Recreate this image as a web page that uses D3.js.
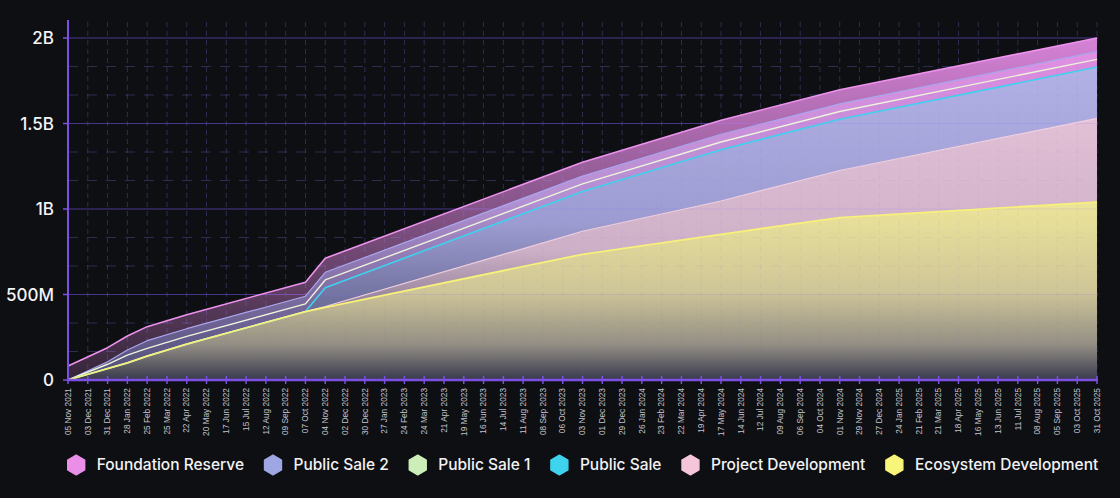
<!DOCTYPE html>
<html><head><meta charset="utf-8">
<script src="https://cdn.jsdelivr.net/npm/d3@7"></script>
<style>
html,body{margin:0;padding:0;background:#0e0f13;}
svg{display:block;}
</style></head><body>
<svg id="chart" width="1120" height="498"></svg>
<script>
// ---------- DATA (values in millions of tokens) ----------
const seriesNames = ["Ecosystem Development","Project Development","Public Sale","Public Sale 1","Public Sale 2","Foundation Reserve"];
const dates = ["2021-11-05","2021-12-31","2022-01-28","2022-02-25","2022-04-22","2022-10-07","2022-11-04","2023-11-03","2024-05-17","2024-11-01","2025-10-31"];
const ecosystemDevelopment = [0, 67, 100, 140, 210, 400, 425, 735, 852, 950, 1040];
const projectDevelopment   = [0, 0, 0, 0, 0, 0, 5, 135, 195, 275, 490];
const publicSale           = [0, 0, 0, 0, 0, 0, 110, 232, 300, 300, 300];
const publicSale1          = [0, 25, 45, 45, 45, 45, 45, 45, 45, 45, 45];
const publicSale2          = [0, 15, 30, 45, 45, 45, 45, 45, 45, 45, 45];
const foundationReserve    = [82, 82, 82, 82, 82, 82, 82, 82, 82, 82, 80];
const xTickLabels = ["05 Nov 2021","03 Dec 2021","31 Dec 2021","28 Jan 2022","25 Feb 2022","25 Mar 2022","22 Apr 2022","20 May 2022","17 Jun 2022","15 Jul 2022","12 Aug 2022","09 Sep 2022","07 Oct 2022","04 Nov 2022","02 Dec 2022","30 Dec 2022","27 Jan 2023","24 Feb 2023","24 Mar 2023","21 Apr 2023","19 May 2023","16 Jun 2023","14 Jul 2023","11 Aug 2023","08 Sep 2023","06 Oct 2023","03 Nov 2023","01 Dec 2023","29 Dec 2023","26 Jan 2024","23 Feb 2024","22 Mar 2024","19 Apr 2024","17 May 2024","14 Jun 2024","12 Jul 2024","09 Aug 2024","06 Sep 2024","04 Oct 2024","01 Nov 2024","29 Nov 2024","27 Dec 2024","24 Jan 2025","21 Feb 2025","21 Mar 2025","18 Apr 2025","16 May 2025","13 Jun 2025","11 Jul 2025","08 Aug 2025","05 Sep 2025","03 Oct 2025","31 Oct 2025"];
const yTickValues = [0, 500, 1000, 1500, 2000];
const yTickLabels = ["0","500M","1B","1.5B","2B"];
const legendOrder = ["Foundation Reserve","Public Sale 2","Public Sale 1","Public Sale","Project Development","Ecosystem Development"];

// ---------- STYLES ----------
const styles = {
  "Ecosystem Development": {legend:"#f7f57a", stroke:"#f7f07a", sw:1.8,
    stops:[[0,"#f3eb9d",0.97],[0.5,"#d9cf9f",0.95],[0.8,"#9a958a",0.95],[1,"#3a3b50",0.95]]},
  "Project Development": {legend:"#f5c6da", stroke:"#f2d2e2", sw:1.2,
    stops:[[0,"#ebc7de",0.96],[0.5,"#dcbdd5",0.93],[1,"#4c4a62",0.9]]},
  "Public Sale": {legend:"#3fd4ee", stroke:"#3ed2ee", sw:1.6,
    stops:[[0,"#b9b8ef",0.96],[0.5,"#a9a8e2",0.92],[1,"#4a4b72",0.9]]},
  "Public Sale 1": {legend:"#cdeeb8", stroke:"#eef4dc", sw:1.4,
    stops:[[0,"#e892ea",0.95],[0.45,"#c39ee6",0.9],[1,"#5a5888",0.85]]},
  "Public Sale 2": {legend:"#9ea6e4", stroke:"#aba7ee", sw:1.2,
    stops:[[0,"#ec96ee",0.95],[0.45,"#c6a0e8",0.9],[1,"#5a5888",0.85]]},
  "Foundation Reserve": {legend:"#ea8ee8", stroke:"#ee92ee", sw:1.6,
    stops:[[0,"#e088e0",0.95],[1,"#e088e0",0.18]]}
};

const W = 1120, H = 498;
const M = {left:68, right:1097, top:38, bottom:380};
const svg = d3.select("#chart");
svg.append("rect").attr("width",W).attr("height",H).attr("fill","#0e0f13");

const parseISO = d3.utcParse("%Y-%m-%d");
const parseTick = d3.utcParse("%d %b %Y");
const valuesBySeries = {
  "Ecosystem Development": ecosystemDevelopment,
  "Project Development": projectDevelopment,
  "Public Sale": publicSale,
  "Public Sale 1": publicSale1,
  "Public Sale 2": publicSale2,
  "Foundation Reserve": foundationReserve
};
const table = dates.map((d,i) => {
  const row = {date: parseISO(d)};
  seriesNames.forEach(s => row[s] = valuesBySeries[s][i]);
  return row;
});
const tickDates = xTickLabels.map(parseTick);

const x = d3.scaleUtc().domain([tickDates[0], tickDates[tickDates.length-1]]).range([M.left, M.right]);
const y = d3.scaleLinear().domain([0, 2000]).range([M.bottom, M.top]);

const layers = d3.stack().keys(seriesNames)(table);

// gradients
const defs = svg.append("defs");
seriesNames.forEach((s,i) => {
  const g = defs.append("linearGradient").attr("id","grad"+i)
    .attr("x1",0).attr("y1",0).attr("x2",0).attr("y2",1);
  styles[s].stops.forEach(st => g.append("stop").attr("offset",st[0]).attr("stop-color",st[1]).attr("stop-opacity",st[2]));
});

// grid (under areas)
const minorVals = d3.range(1, 12).map(i => i * 500/3).filter((v,i) => (i+1) % 3 !== 0);
function drawGrid(op) {
  const grid = svg.append("g");
  grid.selectAll("line.minor").data(minorVals).join("line").attr("class","minor")
    .attr("x1", M.left).attr("x2", M.right+1).attr("y1", d => y(d)).attr("y2", d => y(d))
    .attr("stroke","rgb(110,100,190)").attr("stroke-opacity",0.3*op).attr("stroke-dasharray","10,9");
  grid.selectAll("line.vert").data(tickDates.slice(1)).join("line").attr("class","vert")
    .attr("x1", d => x(d)).attr("x2", d => x(d)).attr("y1", 22).attr("y2", M.bottom)
    .attr("stroke","rgb(110,100,190)").attr("stroke-opacity",0.3*op).attr("stroke-dasharray","5,4");
  grid.selectAll("line.major").data(yTickValues.slice(1)).join("line").attr("class","major")
    .attr("x1", M.left).attr("x2", M.right+1).attr("y1", d => y(d)).attr("y2", d => y(d))
    .attr("stroke","rgb(115,85,225)").attr("stroke-opacity",0.5*op).attr("stroke-width",1);
}
drawGrid(1);

// areas
const area = d3.area().x(d => x(d.data.date)).y0(d => y(d[0])).y1(d => y(d[1]));
svg.append("g").selectAll("path").data(layers).join("path")
  .attr("d", area).attr("fill", (d,i) => `url(#grad${i})`);

// faint grid showing through the fills
drawGrid(0.28);

// lines (top series first, bottom series last so yellow sits on top)
const line = d3.line().x(d => x(d.data.date)).y(d => y(d[1]));
svg.append("g").selectAll("path").data(layers.slice().reverse()).join("path")
  .attr("d", line).attr("fill","none")
  .attr("stroke", d => styles[d.key].stroke)
  .attr("stroke-width", d => styles[d.key].sw)
  .attr("stroke-linejoin","round");

// axes
const axisColor = "#7b50e2";
svg.append("line").attr("x1",M.left).attr("x2",M.left).attr("y1",20).attr("y2",M.bottom+1)
  .attr("stroke",axisColor).attr("stroke-width",2);
svg.append("line").attr("x1",M.left-1).attr("x2",M.right+1).attr("y1",M.bottom).attr("y2",M.bottom)
  .attr("stroke",axisColor).attr("stroke-width",2.5);
svg.append("g").selectAll("line").data(tickDates).join("line")
  .attr("x1", d => x(d)).attr("x2", d => x(d)).attr("y1", M.bottom-4).attr("y2", M.bottom+4)
  .attr("stroke",axisColor).attr("stroke-width",1.5);
svg.append("g").selectAll("line").data(yTickValues).join("line")
  .attr("x1", M.left-5).attr("x2", M.left).attr("y1", d => y(d)).attr("y2", d => y(d))
  .attr("stroke",axisColor).attr("stroke-width",1.5);

// y labels
svg.append("g").selectAll("text").data(yTickValues).join("text")
  .attr("x", 54).attr("y", d => y(d)).attr("dy","0.36em")
  .attr("text-anchor","end").attr("fill","#f4f4f6")
  .style("font-family","Inter, 'Noto Sans', sans-serif").style("font-size","17px").style("font-weight",500)
  .text((d,i) => yTickLabels[i]);

// x labels
svg.append("g").selectAll("text").data(tickDates).join("text")
  .attr("transform", d => `translate(${x(d)},388) rotate(-90)`)
  .attr("dy","0.33em").attr("text-anchor","end").attr("fill","#c4c4cc")
  .style("font-family","'Liberation Sans', Arial, sans-serif").style("font-size","8.3px")
  .text((d,i) => xTickLabels[i]);

// legend
const hex = r => d3.range(6).map(k => {
  const a = Math.PI/180 * (60*k - 90);
  return [r*Math.cos(a), r*Math.sin(a)];
});
const lg = svg.append("g");
const items = legendOrder.map(name => {
  const g = lg.append("g");
  g.append("path").attr("d", "M" + hex(9.8).join("L") + "Z")
    .attr("fill", styles[name].legend).attr("stroke", styles[name].legend)
    .attr("stroke-width",1.4).attr("stroke-linejoin","round").attr("transform","translate(9.5,0)");
  const t = g.append("text").attr("x",30).attr("dy","0.35em").attr("fill","#f2f2f4")
    .style("font-family","Inter, 'Noto Sans', sans-serif").style("font-size","15.5px").style("font-weight",500)
    .text(name);
  return {g, w: 30 + t.node().getComputedTextLength()};
});
const gap = 19.5;
const total = d3.sum(items, d => d.w) + gap*(items.length-1);
let cx = (M.left + M.right)/2 - total/2;
items.forEach(it => { it.g.attr("transform", `translate(${cx},465)`); cx += it.w + gap; });
</script>
</body></html>
